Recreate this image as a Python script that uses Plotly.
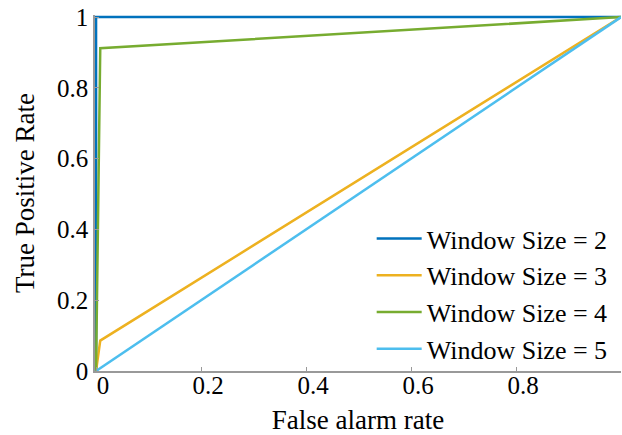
import plotly.graph_objects as go

# Data (ROC curves)
names = ["Window Size = 2", "Window Size = 3", "Window Size = 4", "Window Size = 5"]
fpr_ws2 = [0, 0, 1]
tpr_ws2 = [0, 1, 1]
fpr_ws3 = [0, 0.008, 1]
tpr_ws3 = [0, 0.086, 1]
fpr_ws4 = [0, 0.008, 1]
tpr_ws4 = [0, 0.912, 1]
fpr_ws5 = [0, 1]
tpr_ws5 = [0, 1]
colors = ["#0072BD", "#EDB120", "#77AC30", "#4DBEEE"]
x_ticks = [0, 0.2, 0.4, 0.6, 0.8, 1]
x_ticklabels = ["0", "0.2", "0.4", "0.6", "0.8", "1"]
y_ticks = [0, 0.2, 0.4, 0.6, 0.8, 1]
y_ticklabels = ["0", "0.2", "0.4", "0.6", "0.8", "1"]

FONT = "Liberation Serif"

fig = go.Figure()
series = [(fpr_ws2, tpr_ws2), (fpr_ws3, tpr_ws3), (fpr_ws4, tpr_ws4), (fpr_ws5, tpr_ws5)]
for (xs, ys), nm, c in zip(series, names, colors):
    fig.add_trace(go.Scatter(x=xs, y=ys, mode="lines", name=nm,
                             line=dict(color=c, width=2.5)))

axis_common = dict(
    showgrid=False, zeroline=False, showline=True, linecolor="#999999", linewidth=1.5,
    ticks="inside", ticklen=4, tickcolor="#999999", automargin=False,
    ticklabeloverflow="allow",
    tickfont=dict(family=FONT, size=25, color="black"),
)
fig.update_xaxes(range=[-0.002, 1.0], tickvals=x_ticks, ticktext=x_ticklabels,
                 title=dict(text="False alarm rate", font=dict(family=FONT, size=27, color="black"), standoff=16),
                 ticklabelshift=7, ticklabelstandoff=-9, **axis_common)
fig.update_yaxes(range=[0, 1.006], tickvals=y_ticks, ticktext=y_ticklabels,
                 title=dict(text="True Positive Rate", font=dict(family=FONT, size=27, color="black"), standoff=15),
                 **axis_common)

fig.update_layout(
    width=622, height=435,
    font=dict(family=FONT, color="black"),
    margin=dict(l=95, r=1, t=15, b=64, autoexpand=False),
    paper_bgcolor="white", plot_bgcolor="white",
    showlegend=True,
    legend=dict(x=0.526, y=0.438, xanchor="left", yanchor="top",
                bgcolor="rgba(0,0,0,0)", borderwidth=0,
                font=dict(family=FONT, size=26, color="black"),
                itemwidth=45, tracegroupgap=0),
)

fig.write_html("out.html", config={"displayModeBar": False},
               post_script="document.body.style.margin='0';document.body.style.overflow='hidden';")
